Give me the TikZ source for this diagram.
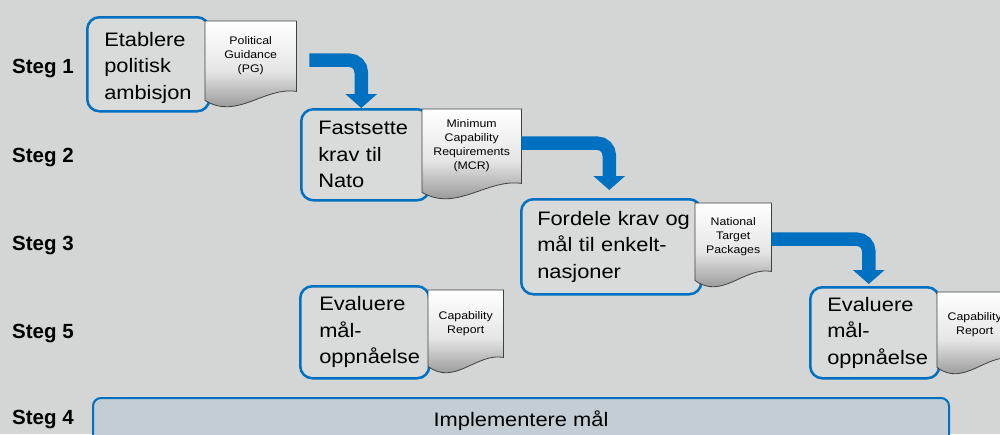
\documentclass[tikz,border=0pt]{standalone}
\usepackage{fontspec}
\setmainfont{Liberation Sans}[FakeStretch=1.12]
\newfontfamily\stegfont{Liberation Sans}
\usetikzlibrary{arrows.meta,calc}
\definecolor{bg}{RGB}{212,214,214}
\definecolor{boxfill}{RGB}{217,218,218}
\definecolor{nblue}{RGB}{0,112,192}
\definecolor{barfill}{RGB}{195,205,211}
\definecolor{docline}{RGB}{64,64,64}
\tikzset{
  stepbox/.style={draw=nblue, line width=2.5pt, fill=boxfill, rounded corners=12pt,
    anchor=north west, inner xsep=17pt, inner ysep=0pt, align=left,
    font=\fontsize{19.5}{26.5}\selectfont},
  docnode/.style={anchor=north west, inner sep=0pt},
  doctext/.style={inner sep=0pt, align=center, font=\fontsize{11}{14}\selectfont},
  docshape/.style={draw=docline, line width=0.8pt, top color=white, bottom color=black!50, middle color=black!10},
  steglabel/.style={anchor=base west, inner sep=0pt, font=\stegfont\bfseries\fontsize{20.5}{24}\selectfont},
  flow/.style={draw=nblue, line width=13.5pt, rounded corners=12pt, -{Triangle[width=31pt,length=14pt]}},
  barbox/.style={draw=nblue, line width=2pt, fill=barfill, rounded corners=8pt, anchor=north west,
    inner sep=0pt, font=\fontsize{19.5}{24}\selectfont},
}
\newcommand\docpath[1]{%
  \path[docshape] (#1.north west) -- (#1.north east) -- ([yshift=-1pt]#1.south east)
    .. controls ($(#1.south west)!0.65!(#1.south east)+(0pt,4pt)$)
    and ($(#1.south west)!0.35!(#1.south east)+(0pt,-30pt)$)
    .. ([yshift=-10pt]#1.south west) -- cycle;}
\begin{document}
\begin{tikzpicture}[x=1pt,y=-1pt]
\fill[bg] (0,0) rectangle (1000,434);
\useasboundingbox (0,0) rectangle (1000,434);
\clip (0,0) rectangle (1000,434);

% step labels
\node[steglabel] (s1) at (12,73) {Steg 1};
\node[steglabel] (s2) at (12,162) {Steg 2};
\node[steglabel] (s3) at (12,250) {Steg 3};
\node[steglabel] (s5) at (12,338) {Steg 5};
\node[steglabel] (s4) at (12,424) {Steg 4};

% step boxes
\node[stepbox, minimum width=122pt, minimum height=94pt, text width=88pt] (b1) at (86,16) {\rule{0pt}{21pt}Etablere\\politisk\\ambisjon};
\node[stepbox, minimum width=128pt, minimum height=91pt, text width=94pt] (b2) at (300,108) {Fastsette\\krav til\\Nato};
\node[stepbox, inner xsep=16pt, minimum width=180pt, minimum height=95pt, text width=148pt] (b3) at (520,198) {\mbox{Fordele krav og}\\\mbox{mål til enkelt-}\\nasjoner};
\node[stepbox, inner xsep=19pt, minimum width=129pt, minimum height=92pt, text width=91pt] (b4) at (299,285) {Evaluere\\mål-\\oppnåelse};
\node[stepbox, minimum width=129pt, minimum height=91pt, text width=95pt] (b5) at (809,286) {Evaluere\\mål-\\oppnåelse};

% documents
\node[docnode, minimum width=91pt, minimum height=69pt] (d1) at (205,21) {};
\docpath{d1}
\node[doctext] (d1t) at (d1.center) {Political\\Guidance\\(PG)};

\node[docnode, minimum width=99pt, minimum height=73pt] (d2) at (422,109) {};
\docpath{d2}
\node[doctext] (d2t) at (d2.center) {Minimum\\Capability\\Requirements\\(MCR)};

\node[docnode, minimum width=76pt, minimum height=67pt] (d3) at (695,203) {};
\docpath{d3}
\node[doctext] (d3t) at (d3.center) {National\\Target\\Packages};

\node[docnode, minimum width=75pt, minimum height=66pt] (d4) at (428,290) {};
\docpath{d4}
\node[doctext] (d4t) at (d4.center) {Capability\\Report};

\node[docnode, minimum width=75pt, minimum height=65pt] (d5) at (937,292) {};
\docpath{d5}
\node[doctext] (d5t) at (d5.center) {Capability\\Report};

% flow arrows
\draw[flow] ([xshift=13pt,yshift=-4.5pt]d1.east) -| ([xshift=-4pt]b2.north);
\draw[flow] ([yshift=2.5pt]d2.east) -| ([xshift=-2pt,yshift=8pt]b3.north);
\draw[flow] ([yshift=-2.5pt]d3.east) -| ([xshift=-6pt,yshift=2pt]b5.north);

% implementation bar
\node[barbox, minimum width=856pt, minimum height=45pt] (bar) at (92,397) {Implementere mål};
\end{tikzpicture}
\end{document}
